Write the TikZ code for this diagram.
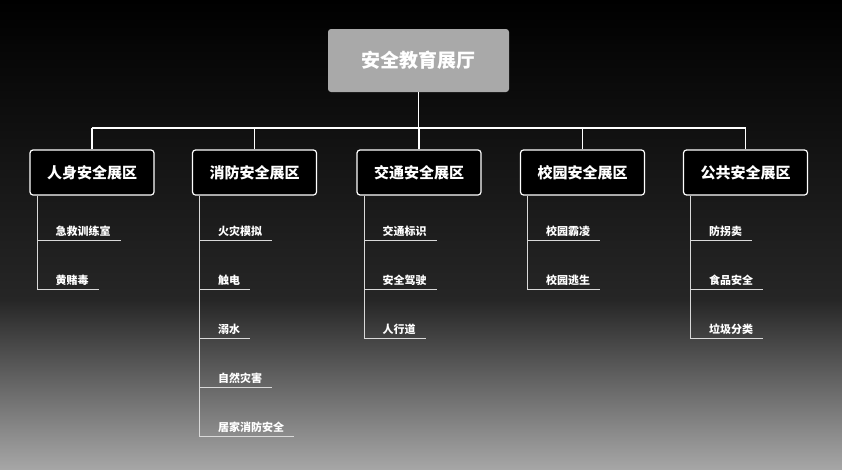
\documentclass[tikz,border=0pt]{standalone}
\usepackage{fontspec}
\setmainfont{Noto Sans CJK SC}
\usetikzlibrary{calc}
\definecolor{rootgray}{HTML}{A9A9A9}
\definecolor{bgmid}{HTML}{262626}
\definecolor{bgend}{HTML}{A6A6A6}
\tikzset{%
  rootbox/.style = {rectangle, rounded corners=3pt, fill=rootgray,%
                    minimum width=181pt, minimum height=63pt,%
                    text=white, font=\bfseries\fontsize{19}{22}\selectfont},%
  zone/.style    = {rectangle, rounded corners=3pt, draw=white, line width=1.2pt,%
                    fill=black, minimum width=124pt, minimum height=45pt,%
                    text=white, font=\bfseries\fontsize{15}{18}\selectfont},%
  item/.style    = {anchor=west, text=white, inner sep=1pt,%
                    font=\bfseries\fontsize{11}{13}\selectfont},%
  link/.style    = {draw=white, line width=1.2pt},%
  rule/.style    = {draw=white!85!black, line width=1pt}%
}
\begin{document}
\begin{tikzpicture}[x=1pt,y=-1pt]
	\useasboundingbox (0,0) rectangle (842,469);
	\shade[top color=black, bottom color=bgmid] (0,0) rectangle (842,300);
	\shade[top color=bgmid, bottom color=bgend] (0,299.5) rectangle (842,469);
	\node[rootbox] (root) at (418.5,60.5) {安全教育展厅};
	\coordinate (bar) at (418.5,128);
	\foreach \name/\x/\txt in {z1/92/人身安全展区, z2/254.5/消防安全展区,%
	  z3/419/交通安全展区, z4/582.5/校园安全展区, z5/745.5/公共安全展区}{%
		\node[zone] (\name) at (\x,172.5) {\txt};
		\draw[link] (\name.north) -- (\name.north |- bar);
	}
	\draw[link] (z1.north |- bar) -- (z5.north |- bar);
	\draw[link] (root.south) -- (bar);
	% items under each zone
	\foreach \name/\list in {z1/{急救训练室,黄赌毒}, z2/{火灾模拟,触电,溺水,自然灾害,居家消防安全},%
	  z3/{交通标识,安全驾驶,人行道}, z4/{校园霸凌,校园逃生}, z5/{防拐卖,食品安全,垃圾分类}}{%
		\coordinate (top) at ($(\name.south west)+(8,0)$);
		\foreach \txt [count=\i] in \list {%
			\node[item] (\name i\i) at ($(top)+(17,{36+49*(\i-1)})$) {\txt};
			\coordinate (\name u\i) at ($(top)+(0,{45+49*(\i-1)})$);
			\draw[rule] (\name u\i) -- (\name u\i -| \name i\i.east) -- ++(9,0);
			\xdef\last{\i}
		}
		\draw[rule] (top) -- (\name u\last);
	}
\end{tikzpicture}
\end{document}
